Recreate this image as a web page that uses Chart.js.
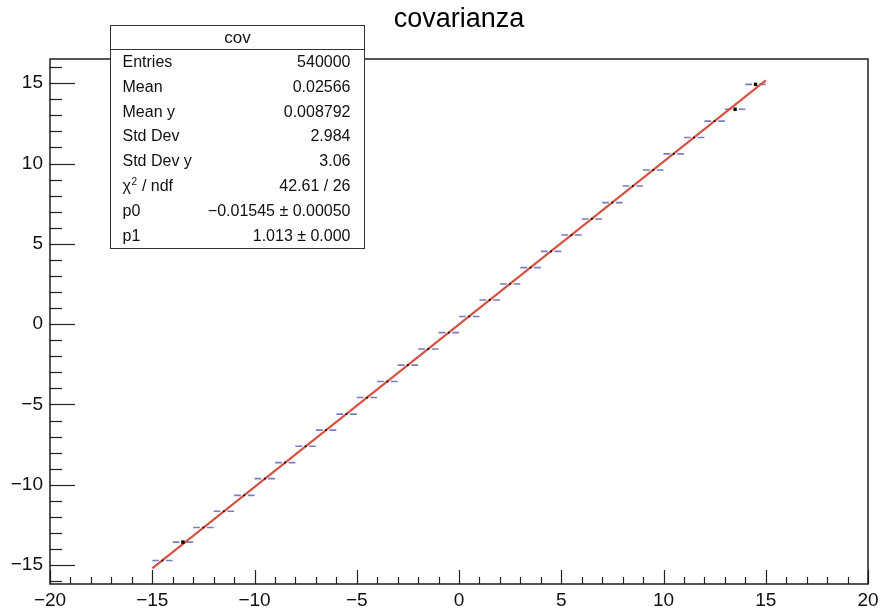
<!DOCTYPE html>
<html>
<head>
<meta charset="utf-8">
<title>covarianza</title>
<script src="https://cdn.jsdelivr.net/npm/chart.js@4.4.0/dist/chart.umd.min.js"></script>
<style>
  html, body { margin: 0; padding: 0; background: #ffffff; }
  canvas { display: block; }
</style>
</head>
<body>
<canvas id="chart" width="884" height="611"></canvas>
<script>
// Profile bins: centre of each x bin and the mean y in that bin
const binCenters = [-14.5, -13.5, -12.5, -11.5, -10.5, -9.5, -8.5, -7.5, -6.5, -5.5,
                    -4.5, -3.5, -2.5, -1.5, -0.5, 0.5, 1.5, 2.5, 3.5, 4.5,
                    5.5, 6.5, 7.5, 8.5, 9.5, 10.5, 11.5, 12.5, 13.5, 14.5];
const binMeans = [-14.72, -13.57, -12.66, -11.65, -10.66, -9.62, -8.62, -7.60, -6.60, -5.60,
                  -4.57, -3.57, -2.55, -1.55, -0.53, 0.48, 1.50, 2.50, 3.52, 4.53,
                  5.55, 6.55, 7.57, 8.60, 9.60, 10.60, 11.62, 12.64, 13.38, 14.93];
const binHalfWidth = 0.5;

// Linear fit pol1: y = p0 + p1 * x
const fitP0 = -0.01545;
const fitP1 = 1.013;
const fitRange = [-15, 15];

// Axis ranges and labelled ticks
const xRange = [-20, 20];
const yRange = [-16.18, 16.51];
const xTickValues = [-20, -15, -10, -5, 0, 5, 10, 15, 20];
const yTickValues = [-15, -10, -5, 0, 5, 10, 15];
const minorStep = 1;

// Statistics box
const statsTitle = 'cov';
const statsLabels = ['Entries', 'Mean', 'Mean y', 'Std Dev', 'Std Dev y', 'CHI2', 'p0', 'p1'];
const statsValues = ['540000', '0.02566', '0.008792', '2.984', '3.06', '42.61 / 26',
                     '\u22120.01545 \u00b1 0.00050', '1.013 \u00b1 0.000'];

// Bins drawn with a larger marker
const largeMarkerBins = [1, 28, 29];

const FONT = '"Liberation Sans", Arial, Helvetica, sans-serif';
Chart.defaults.font.family = FONT;

const minus = v => String(v).replace('-', '\u2212');

const profilePoints = binCenters.map((x, i) => ({ x: x, y: binMeans[i] }));
const fitPoints = fitRange.map(x => ({ x: x, y: fitP0 + fitP1 * x }));

// Horizontal bin-width error bars with a gap around the marker
const errorBars = {
  id: 'errorBars',
  beforeDatasetsDraw(chart) {
    const { ctx, scales: { x, y } } = chart;
    ctx.save();
    ctx.beginPath();
    ctx.rect(chart.chartArea.left, chart.chartArea.top,
             chart.chartArea.right - chart.chartArea.left,
             chart.chartArea.bottom - chart.chartArea.top);
    ctx.clip();
    ctx.strokeStyle = 'rgba(105,110,185,0.9)';
    ctx.lineWidth = 1.6;
    const gap = 3.5;
    binCenters.forEach((c, i) => {
      const py = y.getPixelForValue(binMeans[i]);
      const xl = x.getPixelForValue(c - binHalfWidth);
      const xc = x.getPixelForValue(c);
      const xr = x.getPixelForValue(c + binHalfWidth);
      ctx.beginPath();
      ctx.moveTo(xl, py); ctx.lineTo(xc - gap, py);
      ctx.moveTo(xc + gap, py); ctx.lineTo(xr, py);
      ctx.stroke();
    });
    ctx.restore();
  }
};

// Frame, inward tick marks and statistics box
const frameAndStats = {
  id: 'frameAndStats',
  afterDraw(chart) {
    const { ctx, chartArea: a, scales: { x, y } } = chart;
    ctx.save();
    ctx.strokeStyle = '#222';
    ctx.lineWidth = 1.2;

    // y-axis ticks (pointing right, into the frame)
    for (let v = Math.ceil(yRange[0]); v <= yRange[1]; v += minorStep) {
      const py = Math.round(y.getPixelForValue(v)) + 0.5;
      const len = (v % 5 === 0) ? 25 : 12;
      ctx.beginPath(); ctx.moveTo(a.left, py); ctx.lineTo(a.left + len, py); ctx.stroke();
    }
    // x-axis ticks (pointing up, into the frame)
    for (let v = xRange[0]; v <= xRange[1]; v += minorStep) {
      const px = Math.round(x.getPixelForValue(v)) + 0.5;
      const len = (v % 5 === 0) ? 14 : 7;
      ctx.beginPath(); ctx.moveTo(px, a.bottom); ctx.lineTo(px, a.bottom - len); ctx.stroke();
    }

    // frame
    ctx.lineWidth = 1.5;
    ctx.strokeStyle = '#1e1e1e';
    ctx.strokeRect(a.left, a.top, a.right - a.left, a.bottom - a.top);

    // statistics box
    const bx = 110.5, by = 25.5, bw = 254, bh = 223, headH = 24;
    ctx.fillStyle = '#ffffff';
    ctx.fillRect(bx, by, bw, bh);
    ctx.lineWidth = 1;
    ctx.strokeStyle = '#333';
    ctx.strokeRect(bx, by, bw, bh);
    ctx.beginPath(); ctx.moveTo(bx, by + headH); ctx.lineTo(bx + bw, by + headH); ctx.stroke();

    ctx.fillStyle = '#111';
    ctx.textBaseline = 'middle';
    ctx.font = '17px ' + FONT;
    ctx.textAlign = 'center';
    ctx.fillText(statsTitle, bx + bw / 2, by + headH / 2 + 1);

    const rowH = (bh - headH) / statsLabels.length;
    ctx.font = '16px ' + FONT;
    statsLabels.forEach((lab, i) => {
      const cy = by + headH + rowH * (i + 0.5) + 0.5;
      const lx = bx + 12;
      ctx.textAlign = 'left';
      if (lab === 'CHI2') {
        ctx.font = '16px ' + FONT;
        ctx.fillText('\u03c7', lx, cy);
        const w1 = ctx.measureText('\u03c7').width;
        ctx.font = '10px ' + FONT;
        ctx.fillText('2', lx + w1 + 0.5, cy - 5);
        const w2 = ctx.measureText('2').width;
        ctx.font = '16px ' + FONT;
        ctx.fillText(' / ndf', lx + w1 + w2 + 1, cy);
      } else {
        ctx.fillText(lab, lx, cy);
      }
      ctx.textAlign = 'right';
      ctx.fillText(statsValues[i], bx + bw - 14, cy);
    });
    ctx.restore();
  }
};

new Chart(document.getElementById('chart'), {
  type: 'scatter',
  data: {
    datasets: [
      {
        label: 'cov',
        data: profilePoints,
        pointStyle: 'rect',
        pointRadius: ctx => largeMarkerBins.includes(ctx.dataIndex) ? 2.4 : 1.2,
        pointBackgroundColor: '#000',
        pointBorderWidth: 0,
        showLine: false,
        order: 0
      },
      {
        label: 'fit',
        data: fitPoints,
        showLine: true,
        borderColor: 'rgb(214,82,66)',
        borderWidth: 2.2,
        pointRadius: 0,
        fill: false,
        order: 1
      }
    ]
  },
  options: {
    responsive: false,
    animation: false,
    events: [],
    layout: { padding: { left: 0, right: 16, top: 0, bottom: 0 } },
    plugins: {
      legend: { display: false },
      tooltip: { enabled: false },
      title: {
        display: true,
        text: 'covarianza',
        fullSize: false,
        color: '#000',
        font: { size: 27, weight: 'normal', family: FONT, lineHeight: 1.2 },
        padding: { top: 3, bottom: 23.6 }
      }
    },
    scales: {
      x: {
        type: 'linear',
        min: xRange[0],
        max: xRange[1],
        grid: { display: false, drawTicks: false },
        border: { display: false },
        afterBuildTicks: s => { s.ticks = xTickValues.map(v => ({ value: v })); },
        afterFit: s => { s.height = 27; },
        ticks: {
          autoSkip: false, maxRotation: 0, padding: 5, color: '#111',
          font: { size: 19, family: FONT },
          callback: v => minus(v)
        }
      },
      y: {
        type: 'linear',
        min: yRange[0],
        max: yRange[1],
        grid: { display: false, drawTicks: false },
        border: { display: false },
        afterBuildTicks: s => { s.ticks = yTickValues.map(v => ({ value: v })); },
        afterFit: s => { s.width = 50; },
        ticks: {
          autoSkip: false, padding: 7, color: '#111',
          font: { size: 19, family: FONT },
          callback: v => minus(v)
        }
      }
    }
  },
  plugins: [errorBars, frameAndStats]
});
</script>
</body>
</html>
